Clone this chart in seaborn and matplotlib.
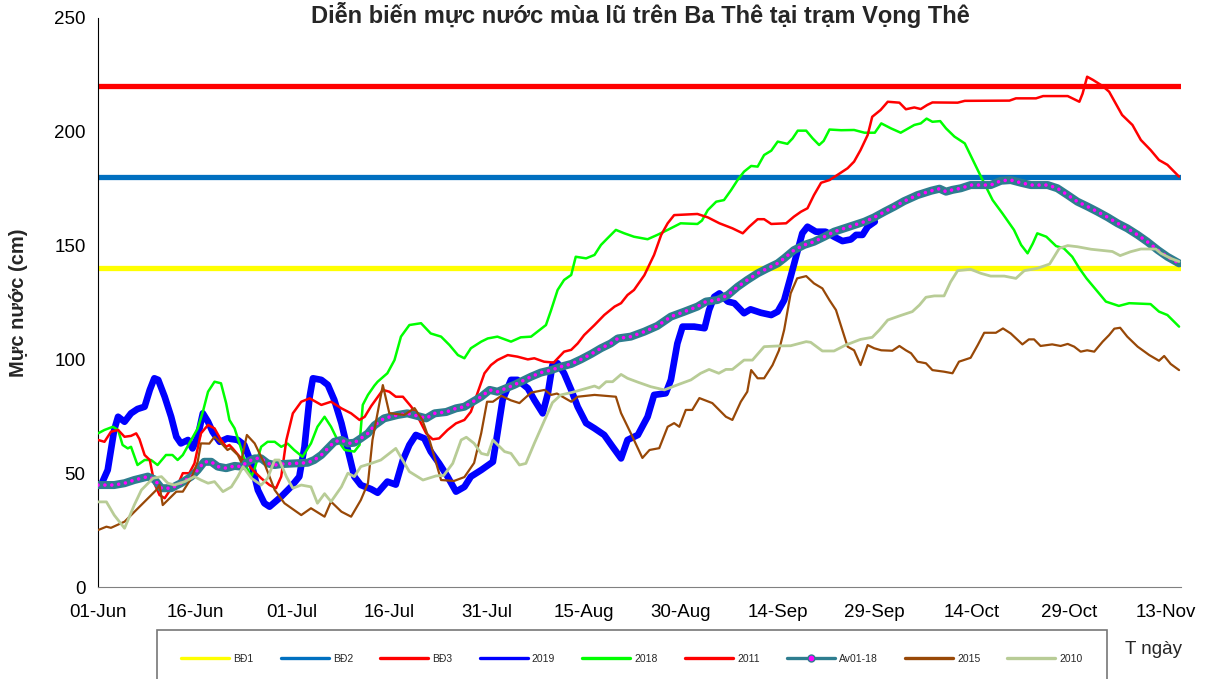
import numpy as np
import pandas as pd
import matplotlib
matplotlib.use('Agg')
import matplotlib.pyplot as plt
from matplotlib.lines import Line2D
import seaborn as sns

# ---------------- data (day 0 = 01-Jun) ----------------
tick_labels = ['01-Jun', '16-Jun', '01-Jul', '16-Jul', '31-Jul', '15-Aug',
               '30-Aug', '14-Sep', '29-Sep', '14-Oct', '29-Oct', '13-Nov']

bd_names = ['BĐ1', 'BĐ2', 'BĐ3']
bd_levels = [140, 180, 220]

days_2019 = [0, 0.5, 1.5, 2.5, 3.1, 4.1, 5.1, 6.1, 7.2, 8, 8.7, 9.3, 10.3, 11.3, 12.1, 12.8, 13.9, 14.6,
             15.4, 16.2, 17, 17.7, 18.8, 20, 21.6, 22.6, 23.7, 24.7, 25.7, 26.5, 28.3, 29.8, 31.1, 31.9,
             32.7, 33.2, 34.5, 35.5, 36.5, 37.6, 38.6, 39.6, 40.6, 42.2, 43.2, 44.7, 46, 47.1, 48.1,
             49.1, 50.4, 51.4, 52.7, 54, 55.3, 56.6, 57.6, 59.2, 61, 61.7, 62.5, 63.8, 64.8, 66.4,
             67.4, 68.7, 69.5, 70.2, 71, 72, 73.1, 74.1, 75.4, 76.7, 78.2, 79.5, 80.8, 81.8, 83.4,
             84.9, 85.9, 87.7, 88.5, 89.5, 90.3, 92.1, 93.7, 94.4, 95.2, 96, 97.3, 98.3, 99.8, 100.8,
             102.4, 104, 105, 106, 107, 108.1, 108.8, 109.6, 110.9, 112.4, 113.7, 115, 116.3, 117.1,
             118.1, 118.9, 120]
vals_2019 = [44.8, 45, 51.4, 69, 74.8, 72.6, 76.3, 78.2, 79.2, 86.6, 91.7, 91, 83.6, 74.8, 66, 63.1, 64.6,
             60.9, 66, 76.3, 72.6, 68.2, 63.8, 65.3, 64.6, 62.4, 54.3, 42.6, 36.8, 35.3, 39.7, 44, 48.5,
             61.6, 83.6, 91.7, 91, 88.8, 82.2, 72, 60.2, 48.5, 44.8, 43, 41.4, 46.3, 45, 55.8, 62.4,
             66.8, 65.3, 59.5, 54.3, 48.5, 41.9, 44, 48.5, 51.4, 55, 67.5, 82.2, 91, 91, 87.3, 82.2,
             76.3, 85.1, 97.5, 98.3, 93.9, 86.6, 79.2, 72, 69.7, 66.8, 61.6, 56.5, 64.6, 66.8, 74.8,
             84.4, 85.1, 91, 107, 114.4, 114.4, 113.7, 121.7, 127.5, 129, 125.4, 124.7, 120.3, 122,
             120.5, 119.5, 121, 126, 136.3, 148, 155.4, 158.3, 156.1, 156.1, 153.9, 152, 152.7, 154.7,
             154.7, 158.3, 160.5]

days_2018 = [0, 1, 2.3, 3.1, 3.8, 4.6, 5.1, 6.1, 7.2, 8.2, 9.2, 10.5, 11.5, 12.3, 13.1, 14.4, 15.4, 16.2,
             17, 18, 19, 19.8, 20.3, 21.1, 22.1, 22.9, 23.7, 24.2, 25.2, 26.2, 27.3, 28.3, 29.3, 30.3,
             31.6, 32.9, 33.9, 35, 36, 37, 38.1, 39.6, 40.4, 40.9, 41.7, 42.7, 43.2, 44.7, 45.8, 46.8,
             48.1, 49.9, 51.4, 53, 54.3, 55.6, 56.6, 57.6, 59.2, 60.2, 61.7, 63.8, 65.3, 66.9, 67.9,
             69.2, 70, 71, 72, 73.1, 73.8, 75.4, 76.7, 77.7, 78.7, 80, 81.3, 82.8, 84.9, 86.4, 88, 90,
             92.6, 93.3, 94.2, 95.5, 96.7, 97.8, 98.8, 99.8, 100.9, 101.9, 102.9, 104, 105, 106.5,
             107.3, 108.1, 109.4, 110.4, 111.4, 112.1, 113, 114.8, 116.8, 118.4, 120, 121, 122.5, 124,
             126.1, 127.1, 128, 128.9, 130.1, 131, 132.3, 133.9, 134.9, 135.9, 136.9, 138.2, 139.7,
             141.5, 142.6, 143.6, 144.4, 145.1, 146.5, 148, 149.2, 150.5, 151.6, 152.7, 154.2, 155.7,
             157.7, 159.3, 162.6, 163.9, 165.2, 167]
vals_2018 = [67.5, 69, 70.4, 69, 62.4, 60.9, 61.6, 53.6, 55.8, 55.8, 53.6, 58, 58, 55.8, 58, 64.6, 69.7, 77,
             85.8, 90.2, 89.5, 80.7, 73.4, 69.7, 60.9, 52.9, 48.5, 52, 61.6, 63.8, 63.8, 61.6, 63, 60.2,
             57.2, 63.1, 70.4, 74.8, 70.4, 64.6, 60.2, 59.5, 62.4, 80, 84.4, 88.5, 90.2, 93.9, 99.7, 110,
             115.1, 115.9, 111.4, 110, 106.3, 101.9, 100.5, 104.9, 107.8, 109.2, 110, 107.8, 109.7, 110,
             112.2, 115.1, 121.7, 130.5, 134.9, 137.1, 145.1, 144.4, 145.9, 150.3, 153.2, 156.9, 155.4,
             153.9, 152.8, 154.7, 156.9, 159.8, 159.5, 161, 165.6, 169.3, 170, 174.4, 178.8, 182.5, 185,
             184.7, 189.8, 191.7, 195.7, 194.7, 197.1, 200.5, 200.5, 197.1, 194.2, 196, 201, 200.7,
             200.8, 199.6, 199.6, 203.7, 201.5, 199.6, 203, 203.7, 205.8, 204.4, 204.7, 201.5, 197.9,
             194.9, 189, 183.2, 177.4, 170, 164.2, 156.9, 150.3, 146.6, 150.9, 155.4, 153.9, 149.8,
             148.8, 145.1, 140, 135.6, 130.5, 125.4, 123.5, 124.7, 124.3, 121, 119.5, 114.4]

days_2011 = [0, 1, 2, 3.1, 4.1, 5.1, 5.9, 6.4, 7.2, 8, 8.7, 9.5, 10.3, 11, 12.3, 13.1, 14.1, 14.9, 15.9, 17,
             18, 19, 19.8, 20.3, 20.8, 22.1, 23.1, 23.9, 25.2, 26.5, 27.5, 28.3, 29.1, 30.1, 31.4, 32.7,
             34.5, 36, 37.6, 39.1, 40.4, 41.2, 42.2, 44, 45, 46, 47.1, 48.4, 49.4, 50.7, 51.7, 52.7, 54,
             55.3, 56.6, 57.6, 58.6, 59.7, 60.7, 61.7, 63.3, 64.8, 66.4, 67.4, 68.9, 70.4, 72, 73.1,
             74.1, 75.1, 76.7, 78.2, 79.8, 80.8, 81.8, 82.8, 84.4, 85.9, 87, 88, 89, 92.6, 94.2, 96, 98,
             99.6, 100.6, 101.9, 102.9, 104, 106.3, 107.5, 108.6, 109.6, 110.6, 111.7, 113, 114.2,
             115.8, 116.8, 117.8, 118.9, 119.6, 120.9, 122, 123.8, 124.8, 126.1, 127.1, 128.1, 128.9,
             132.8, 133.9, 140.8, 141.8, 144.9, 146, 149.8, 151.6, 152.1, 152.8, 153.7, 155.2, 156.2,
             157.2, 158.2, 159.8, 161.1, 162.6, 163.9, 165.2, 167]
vals_2011 = [64.6, 63.8, 68.2, 69, 66, 66.4, 67.5, 65, 58, 55.8, 45.6, 40.4, 39, 42, 44.8, 50, 50, 54.3, 67.5,
             71.2, 69.7, 64.6, 61.6, 62.4, 60.9, 56.5, 54.3, 51.4, 47.8, 44.8, 43.4, 48.5, 64.6, 76.3,
             81.4, 82.9, 80, 81.4, 78.5, 76.3, 73.4, 74.8, 79.5, 86.6, 85.8, 83.6, 83.6, 79.2, 74.8, 67.5,
             64.9, 65.3, 69, 71.9, 73.4, 77, 85.1, 93.9, 97.5, 99.7, 101.9, 101.2, 100, 100.5, 99, 98.6,
             103.4, 104.2, 107, 110.7, 115.1, 119.5, 123.2, 124.7, 128.3, 130.5, 137, 145.9, 154.7,
             159.8, 163.4, 163.9, 162.4, 159.8, 157.6, 155.4, 158.3, 161.6, 161.6, 159.5, 159.8, 162.7,
             164.9, 166.4, 172.2, 177.6, 178.8, 181, 184, 186.9, 192, 198.6, 206.6, 209.6, 213.2, 212.8,
             209.9, 210.7, 210, 211.8, 212.9, 212.8, 213.6, 213.7, 214.7, 214.7, 215.7, 215.7, 213.2,
             216.8, 224.2, 222.8, 220.1, 217.6, 212.5, 207.4, 203, 196.4, 192, 187.6, 185.5, 180.3]

days_avg = [0, 2.5, 4.1, 5.6, 7.7, 8.7, 9.8, 11.3, 12.8, 14.4, 15.4, 16.4, 17.5, 18.5, 19.8, 21.1, 22.1, 23.1,
            24.2, 25.2, 26.2, 27.3, 28.3, 30.3, 32.4, 33.4, 34.5, 35.5, 36.5, 37.6, 38.6, 39.6, 40.6, 41.7,
            42.7, 44.2, 46.3, 47.8, 49.4, 50.7, 52, 53.8, 55.3, 56.6, 57.9, 59.2, 60.5, 61.7, 63, 64.3,
            65.3, 66.9, 68.4, 70, 71.5, 73.1, 74.6, 76.2, 77.7, 79.2, 80.3, 82.3, 84.4, 86.4, 88.5, 90.6,
            92.6, 93.9, 95.7, 97.3, 98.8, 100.3, 101.9, 103.4, 105, 106, 107.5, 109.1, 110.6, 112.2,
            113.7, 115.3, 116.8, 118.4, 119.9, 121.5, 123, 124.5, 126.6, 128.7, 130, 131, 132, 133.3,
            134.8, 137.9, 139.5, 141, 142.6, 144.1, 146.7, 148.2, 149.8, 151.3, 152.9, 154.4, 156,
            157.5, 159, 160.6, 162.1, 163.7, 165.2, 167]
vals_avg = [44.8, 44.8, 45.6, 47, 48.5, 47.3, 43.4, 43.4, 45.6, 48.5, 51.4, 55, 55, 52.9, 52.2, 53.2, 52.9, 55,
            56.5, 56.5, 54.3, 53.6, 54, 54.3, 54.6, 55.8, 58, 60.9, 63.8, 64.6, 63.1, 63.4, 65.3, 67.5, 71,
            74.1, 75.6, 76.3, 75.1, 74.1, 76.3, 76.9, 78.5, 79.2, 81.4, 83.6, 86.6, 85.8, 87.3, 88.8,
            90.2, 92.4, 94.2, 95.3, 96.8, 98, 100, 102.4, 104.9, 107, 109.2, 110, 112.2, 114.7, 118.8,
            121, 123.2, 125.4, 126.1, 128.3, 131.9, 134.9, 137.8, 140, 142.2, 144.4, 148, 150.3, 151.7,
            153.9, 156.1, 157.6, 159, 160.5, 162.4, 164.9, 167.1, 169.5, 172.2, 174.1, 175, 173.7,
            174.5, 175.2, 176.6, 176.6, 178.5, 178.8, 177.6, 176.6, 176.6, 175.2, 172.2, 169.3, 167.1,
            164.9, 162.4, 159.8, 157.6, 154.7, 151.7, 148.1, 145.1, 142.2]

days_2015 = [0, 1.3, 2, 4.1, 7.2, 9, 9.5, 10, 12.1, 13.1, 14.4, 15.4, 15.9, 17.2, 18, 19.3, 20, 20.5, 21.6,
             22.1, 23, 24.2, 25.7, 27.3, 28.8, 30.3, 31.4, 32.9, 35, 36, 37.6, 39.1, 40.6, 41.7, 42.4, 44,
             45, 47.3, 48.9, 50.1, 51.2, 53, 55, 56.6, 58.1, 59.2, 60.1, 61, 62.3, 63.8, 65.1, 66.9, 69,
             70, 70.9, 73.1, 74.1, 76.7, 80, 80.8, 82.3, 84.1, 85.2, 86.7, 88, 89, 89.8, 90.8, 91.8, 92.9,
             94.9, 97, 98, 99.3, 100.3, 100.9, 101.9, 102.9, 104.2, 105.2, 106, 107, 108, 109.4, 110.6,
             111.9, 113, 114, 115.3, 115.8, 116.8, 117.8, 118.9, 119.9, 121, 122.7, 123.8, 124.8, 125.6,
             126.6, 127.9, 128.9, 130.7, 132, 133, 134.8, 135.9, 136.9, 138.7, 139.8, 141, 142.8, 143.8,
             144.6, 145.6, 147.4, 148.7, 149.8, 150.8, 151.8, 152.8, 153.9, 155.2, 156.2, 157, 157.9,
             159, 160.6, 162.4, 163.9, 164.7, 165.7, 167]
vals_2015 = [25, 26.5, 26, 28.7, 37.5, 42.6, 44.8, 36, 41.9, 41.9, 47.8, 55, 63.1, 63, 66, 62.4, 60.2, 61, 58,
             55, 66.8, 63.1, 54.3, 42.6, 36.8, 33.8, 31.6, 34.6, 30.9, 37.5, 33.1, 30.9, 38.2, 45.6, 64.6,
             88.7, 76.4, 75.6, 78.6, 73.4, 64.6, 47, 46.6, 48.3, 54.5, 67.6, 81.4, 81.4, 84, 82, 80.8,
             85.4, 86.6, 84.4, 85, 81.4, 83.6, 84.4, 83.6, 76.4, 67.6, 56.7, 60.2, 61, 70.4, 72, 70.4,
             77.8, 77.8, 83, 80.8, 74.8, 73.4, 81.4, 85.8, 95.3, 91.7, 91.7, 97.5, 104, 113, 129, 135.6,
             136.6, 133.4, 131.2, 126, 121.7, 110, 105.6, 104, 97.5, 106.3, 104.9, 104, 103.8, 105.9, 104,
             102.7, 99, 98.3, 95.3, 94.6, 93.9, 99, 100.7, 106.3, 111.7, 111.7, 113.6, 111.4, 106.6,
             108.8, 108.8, 105.9, 106.6, 105.9, 106.8, 105.6, 103.4, 104, 103.4, 107.8, 110.7, 113.5,
             113.9, 110, 105.6, 101.9, 99.4, 101.5, 98, 95.3]

days_2010 = [0, 1.3, 2.5, 4.1, 5.6, 6.7, 8.5, 9.8, 10.8, 11.8, 13.4, 14.9, 15.9, 17, 18, 19.3, 20.6, 21.6, 22.4,
             23.7, 25.2, 26.2, 27.3, 28, 29.1, 30.1, 31.4, 32.9, 33.9, 35, 36, 37.6, 38.6, 39.6, 40.6,
             42.2, 43.7, 46, 48.1, 50.2, 52.2, 53.4, 54.8, 56.1, 56.9, 58.1, 59.2, 60.2, 61, 62.8, 63.8,
             65.1, 66.1, 67.4, 69, 70.2, 71.5, 73.1, 74.6, 76.7, 77.4, 78.5, 79.5, 80.8, 81.8, 83.4, 85.4,
             87.5, 89.5, 91.6, 93.1, 94.4, 95.9, 97, 98, 99.8, 101.1, 102.9, 105, 107, 109.4, 110.1,
             111.9, 113.7, 115.5, 117.8, 119.6, 120.7, 122, 124, 125.8, 126.9, 127.9, 129.2, 130.7, 131.7,
             132.8, 134.8, 136.4, 137.9, 140, 141.8, 143.1, 145.1, 147, 147.7, 148.5, 149.8, 151.3, 153.4,
             155.4, 156.7, 157.9, 159.5, 161.1, 163.4, 164.2, 165.7, 167]
vals_2010 = [37.4, 37.4, 31.6, 25.8, 36, 42.6, 47.8, 48.5, 45.6, 44.8, 46.3, 48.5, 47, 45.6, 46.3, 41.9, 44,
             48.5, 52.9, 47.8, 44.8, 47.8, 55.8, 55.8, 48.5, 43.4, 44.8, 44, 36.8, 41, 37.5, 44, 50, 48.5,
             52.9, 54.3, 55.8, 60.9, 50.7, 47, 48.8, 49, 54.3, 64.6, 65.8, 63.1, 58.7, 58, 64.6, 59.5,
             58.7, 53.6, 54.3, 63.1, 73.4, 81, 84.4, 85.4, 86.6, 88.3, 87.4, 90.2, 90.2, 93.4, 91.7, 90,
             88, 86.6, 88.8, 91, 93.9, 95.6, 93.9, 95.6, 95.6, 99.7, 99.7, 105.6, 105.9, 106, 107.8,
             107.5, 103.7, 103.7, 106.3, 108.8, 109.7, 112.9, 117.3, 119.3, 121, 123.9, 127.3, 127.9,
             127.9, 134, 139, 139.6, 137.8, 136.6, 136.6, 135.6, 139, 140, 141.9, 145.1, 148.8, 150,
             149.5, 148.4, 147.8, 147.4, 145.6, 147.3, 148.5, 148.5, 146.6, 144.4, 143]

# ---------------- style ----------------
sns.set_style('white')
plt.rcParams['font.family'] = ['Liberation Sans', 'DejaVu Sans']

c_bd = ['#FFFF00', '#0070C0', '#FF0000']
series = [  # label, days, values, color, width
    ('2019', days_2019, vals_2019, '#0000FF', 4.8),
    ('2018', days_2018, vals_2018, '#00FF00', 1.8),
    ('2011', days_2011, vals_2011, '#FF0000', 1.8),
    ('Av01-18', days_avg, vals_avg, '#2E7D8F', 5.8),
    ('2015', days_2015, vals_2015, '#984807', 1.6),
    ('2010', days_2010, vals_2010, '#B8CC96', 2.0),
]

fig = plt.figure(figsize=(12.10, 6.79), dpi=100)
ax = fig.add_axes([98 / 1210, 1 - 587 / 679, (1181 - 98) / 1210, (587 - 18) / 679])

for lvl, col in zip(bd_levels, c_bd):
    ax.axhline(lvl, color=col, lw=3.8, zorder=1)

for i, (lab, d, v, col, w) in enumerate(series):
    sns.lineplot(x=d, y=v, ax=ax, color=col, lw=w, zorder=2 + i)
    if lab == 'Av01-18':
        # magenta point markers along the average line
        sns.lineplot(x=d, y=v, ax=ax, color='#FF00FF', lw=2.6, zorder=2 + i,
                     linestyle=(0, (0.01, 1.9)), dash_capstyle='round')

ax.set_xlim(0, 167.3)
ax.set_ylim(0, 250)
ax.set_xticks(np.arange(len(tick_labels)) * 15)
ax.set_xticklabels(tick_labels)
ax.set_yticks(np.arange(0, 251, 50))
ax.tick_params(axis='both', labelsize=13.5, direction='out', length=5, width=1, colors='black')
ax.tick_params(axis='x', pad=7, color='#808080')
ax.tick_params(axis='y', pad=4)
sns.despine(ax=ax)
ax.spines['left'].set_color('black')
ax.spines['bottom'].set_color('#808080')
ax.set_xlabel('')
ax.set_ylabel('')

fig.text(640 / 1210, 1 - 15 / 679, 'Diễn biến mực nước mùa lũ trên Ba Thê tại trạm Vọng Thê',
         ha='center', va='center', fontsize=17, fontweight='bold')
fig.text(19 / 1210, 1 - 303 / 679, 'Mực nước (cm)', rotation=90, ha='center', va='center',
         fontsize=14.5, fontweight='bold')
fig.text(1125 / 1210, 1 - 650 / 679, 'T ngày', ha='left', va='center', fontsize=13.5)

handles = [Line2D([], [], color=c, lw=2.4) for c in c_bd]
for lab, d, v, col, w in series:
    if lab == 'Av01-18':
        handles.append(Line2D([], [], color=col, lw=2.4, marker='o', markersize=5,
                              markerfacecolor='#FF00FF', markeredgecolor=col))
    else:
        handles.append(Line2D([], [], color=col, lw=2.4))
labels = bd_names + [s[0] for s in series]
leg = fig.legend(handles, labels, loc='center', ncol=9, mode='expand', fontsize=7.5,
                 bbox_to_anchor=(152 / 1210, 1 - 659 / 679, (1112 - 152) / 1210, 0),
                 handlelength=4.6, handletextpad=0.4, borderpad=2.3, frameon=True,
                 fancybox=False)
leg.get_frame().set_edgecolor('#555555')
leg.get_frame().set_linewidth(1.2)

fig.savefig('out.png', dpi=100)
